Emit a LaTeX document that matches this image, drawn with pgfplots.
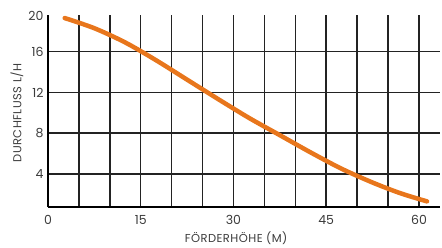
\documentclass[border=0pt]{standalone}
\usepackage{fontspec}
\setmainfont{Poppins}
\usepackage{pgfplots}
\pgfplotsset{compat=1.18}
\definecolor{curve}{RGB}{232,118,28}
\definecolor{gridc}{RGB}{35,35,35}
\definecolor{txt}{RGB}{60,60,60}
\begin{document}
\begin{tikzpicture}
\begin{axis}[
  scale only axis,
  width=392pt, height=192pt,
  xmin=0, xmax=63.4, ymin=0.75, ymax=19.6,
  axis x line*=bottom, axis y line*=left,
  axis line style={black, line width=1.8pt, -},
  xtick={0,5,...,60},
  xticklabels={0,,,15,,,30,,,45,,,60},
  ytick={4,8,12,16},
  extra y ticks={19.5},
  extra y tick labels={20},
  extra y tick style={grid=none},
  major tick length=0pt,
  grid=major,
  major grid style={gridc, line width=1.5pt},
  tick label style={font=\fontsize{12.5}{13}\selectfont, text=txt},
  /pgf/number format/assume math mode=true,
  xticklabel style={yshift=-5pt},
  yticklabel style={xshift=-1pt},
  xlabel={FÖRDERHÖHE (M)},
  ylabel={DURCHFLUSS L/H},
  label style={font=\fontsize{11.5}{12}\selectfont\addfontfeatures{LetterSpace=4}, text=txt},
  xlabel style={at={(axis description cs:0.48,-0.161)}, anchor=center},
  ylabel style={at={(axis description cs:-0.079,0.49)}, anchor=center},
  clip=false,
]
\addplot[curve, line width=4.5pt, smooth, line cap=round] coordinates {
(2.7,19.3) (7.5,18.3) (12.5,16.9) (17.5,15.15) (22.5,13.25) (27.5,11.35)
(32.5,9.5) (37.5,7.8) (42.5,6.1) (47.5,4.5) (52.5,3.15) (57,2.1) (61.3,1.3)
};
\end{axis}
\path[use as bounding box] (-48pt,-37pt) rectangle (394pt,207pt);
\end{tikzpicture}
\end{document}
